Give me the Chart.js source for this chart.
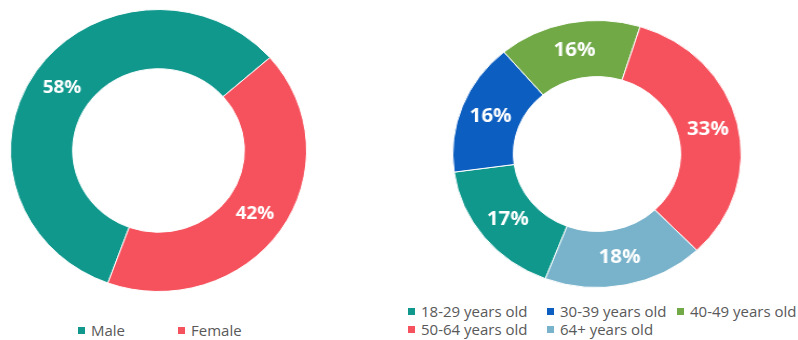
<!DOCTYPE html>
<html>
<head>
<meta charset="utf-8">
<script src="https://cdn.jsdelivr.net/npm/chart.js@4.4.1/dist/chart.umd.min.js"></script>
<style>
  body { margin: 0; width: 798px; height: 340px; background: #fff; position: relative; overflow: hidden; font-family: "Open Sans", sans-serif; }
  .donut { position: absolute; }
  #genderWrap { left: 17px; top: 9px; width: 283px; height: 283px; transform: scaleX(1.05); }
  #ageWrap { left: 463px; top: 20px; width: 268px; height: 268px; transform: scaleX(1.08); }
  .legend { position: absolute; font-size: 15px; color: #595959; }
  .legend .item { display: flex; align-items: center; white-space: nowrap; height: 18px; }
  .legend .box { width: 7px; height: 7px; margin-right: 6px; flex: none; }
  #genderLegend { left: 78px; top: 321px; display: grid; grid-template-columns: 100px auto; }
  #ageLegend { left: 408px; top: 302px; display: grid; grid-template-columns: 139px 130px auto; }
</style>
</head>
<body>
<div class="donut" id="genderWrap"><canvas id="genderChart"></canvas></div>
<div class="donut" id="ageWrap"><canvas id="ageChart"></canvas></div>
<div class="legend" id="genderLegend"></div>
<div class="legend" id="ageLegend"></div>

<script>
// chart data
const genderLabels = ['Male', 'Female'];
const genderValues = [58, 42];
const genderColors = ['#10988d', '#f6525d'];

const ageLabels = ['18-29 years old', '30-39 years old', '40-49 years old', '50-64 years old', '64+ years old'];
const ageValues = [17, 16, 16, 33, 18];
const ageColors = ['#10988d', '#0c5ec0', '#71a946', '#f6525d', '#79b3cb'];

// Draw "NN%" on the middle of each slice
const pctLabels = {
    id: 'pctLabels',
    afterDatasetsDraw(chart, args, opts) {
        const ctx = chart.ctx;
        const values = chart.data.datasets[0].data;
        chart.getDatasetMeta(0).data.forEach((arc, i) => {
            const pos = arc.tooltipPosition();
            ctx.save();
            ctx.font = `bold ${opts.size}px "Open Sans"`;
            ctx.fillStyle = '#ffffff';
            ctx.textAlign = 'center';
            ctx.textBaseline = 'middle';
            ctx.fillText(values[i] + '%', pos.x, pos.y);
            ctx.restore();
        });
    }
};

function renderDonut(canvasId, labels, values, colors, rotation, labelSize) {
    const ctx = document.getElementById(canvasId).getContext('2d');
    return new Chart(ctx, {
        type: 'doughnut',
        data: {
            labels: labels,
            datasets: [{
                data: values,
                backgroundColor: colors,
                borderColor: '#ffffff',
                borderWidth: 1
            }]
        },
        options: {
            responsive: true,
            maintainAspectRatio: false,
            animation: false,
            cutout: '58%',
            rotation: rotation,
            events: [],
            layout: { padding: 0 },
            plugins: {
                legend: { display: false },
                tooltip: { enabled: false },
                pctLabels: { size: labelSize }
            }
        },
        plugins: [pctLabels]
    });
}

function renderLegend(id, labels, colors) {
    const legend = document.getElementById(id);
    legend.innerHTML = '';
    labels.forEach((label, i) => {
        const item = document.createElement('div');
        item.className = 'item';
        item.innerHTML = `<span class="box" style="background:${colors[i]}"></span><span>${label}</span>`;
        legend.appendChild(item);
    });
}

renderDonut('genderChart', genderLabels, genderValues, genderColors, 200, 18);
renderDonut('ageChart', ageLabels, ageValues, ageColors, 201, 19);
renderLegend('genderLegend', genderLabels, genderColors);
renderLegend('ageLegend', ageLabels, ageColors);
</script>
</body>
</html>
